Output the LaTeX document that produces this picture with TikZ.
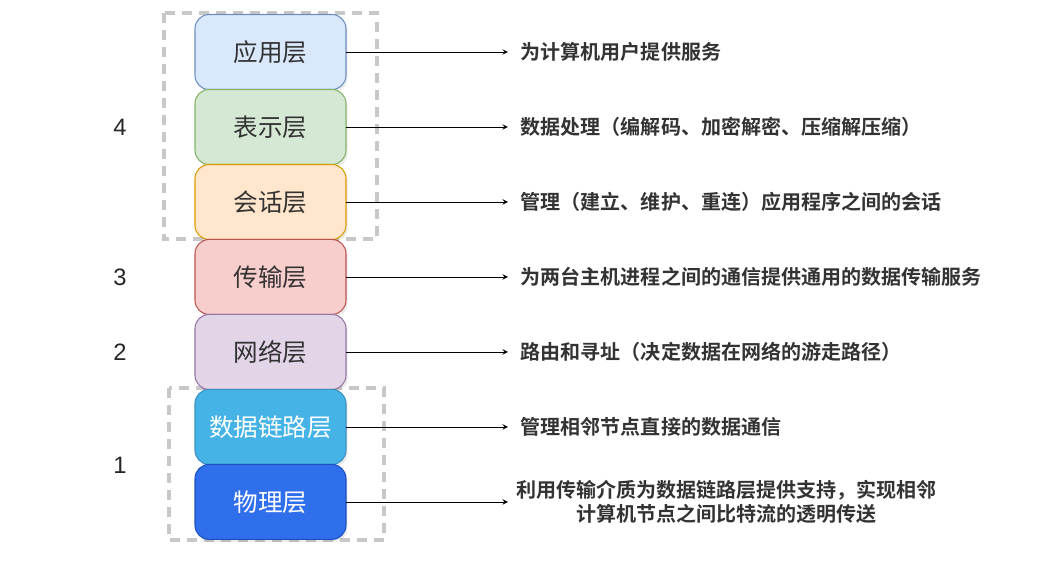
\documentclass[tikz,border=0pt]{standalone}
\usepackage{fontspec}
\setmainfont{Noto Sans CJK SC}[BoldFont={Noto Sans CJK SC Bold}]
\newfontfamily\digitfont{Liberation Sans}
\usetikzlibrary{positioning,shadows}
\definecolor{appfill}{HTML}{DAE8FC}\definecolor{appline}{HTML}{6C8EBF}
\definecolor{prefill}{HTML}{D5E8D4}\definecolor{preline}{HTML}{82B366}
\definecolor{sesfill}{HTML}{FFE6CC}\definecolor{sesline}{HTML}{D79B00}
\definecolor{trafill}{HTML}{F8CECC}\definecolor{traline}{HTML}{B85450}
\definecolor{netfill}{HTML}{E1D5E7}\definecolor{netline}{HTML}{9673A6}
\definecolor{linkfill}{HTML}{46B3E6}\definecolor{linkline}{HTML}{3A8FC0}
\definecolor{phyfill}{HTML}{2F6FEC}\definecolor{phyline}{HTML}{2050C0}
\definecolor{desctext}{HTML}{333333}
\definecolor{groupline}{HTML}{C8C8C8}
\tikzset{
  layer/.style={draw,rounded corners=8pt,minimum width=3.02cm,minimum height=1.5cm,outer sep=0pt,
    font=\fontsize{14}{16}\selectfont,text=desctext,line width=0.6pt,
    drop shadow={opacity=0.15,shadow xshift=1pt,shadow yshift=-1.5pt}},
  desc/.style={font=\bfseries\fontsize{11.4}{14}\selectfont,text=desctext,inner xsep=0.25cm,anchor=west},
  num/.style={font=\digitfont\fontsize{13.5}{15}\selectfont,text=black!85},
  link/.style={-stealth,thin},
  group/.style={draw=groupline,line width=2pt,dash pattern=on 0.2cm off 0.14cm}
}
\begin{document}
\begin{tikzpicture}[x=0.02cm,y=-0.02cm]
\useasboundingbox (0,0) rectangle (1039,578);
%groups
\draw[group] (164,13) rectangle (377,239);
\draw[group] (169,388) rectangle (384,540);
%layers
\node[layer,fill=appfill,draw=appline] (app) at (270.5,52) {应用层};
\node[layer,fill=prefill,draw=preline,below=0pt of app] (pre) {表示层};
\node[layer,fill=sesfill,draw=sesline,below=0pt of pre] (ses) {会话层};
\node[layer,fill=trafill,draw=traline,below=0pt of ses] (tra) {传输层};
\node[layer,fill=netfill,draw=netline,below=0pt of tra] (net) {网络层};
\node[layer,fill=linkfill,draw=linkline,text=white,below=0pt of net] (lnk) {数据链路层};
\node[layer,fill=phyfill,draw=phyline,text=white,below=0pt of lnk] (phy) {物理层};
%descriptions
\node[desc,right=3.24cm of app] (appd) {为计算机用户提供服务};
\node[desc,right=3.24cm of pre] (pred) {数据处理（编解码、加密解密、压缩解压缩）};
\node[desc,right=3.24cm of ses] (sesd) {管理（建立、维护、重连）应用程序之间的会话};
\node[desc,right=3.24cm of tra] (trad) {为两台主机进程之间的通信提供通用的数据传输服务};
\node[desc,right=3.24cm of net] (netd) {路由和寻址（决定数据在网络的游走路径）};
\node[desc,right=3.24cm of lnk] (lnkd) {管理相邻节点直接的数据通信};
\node[desc,right=3.24cm of phy,align=center,inner xsep=0.16cm] (phyd) {利用传输介质为数据链路层提供支持，实现相邻\\计算机节点之间比特流的透明传送};
\foreach \a in {app,pre,ses,tra,net,lnk,phy}{
\draw[link] (\a.east) -- (\a d.west);
}
%numbers
\node[num] (n4) at (120,127) {4};
\node[num] (n3) at (120,277) {3};
\node[num] (n2) at (120,352) {2};
\node[num] (n1) at (120,465) {1};
\end{tikzpicture}
\end{document}
